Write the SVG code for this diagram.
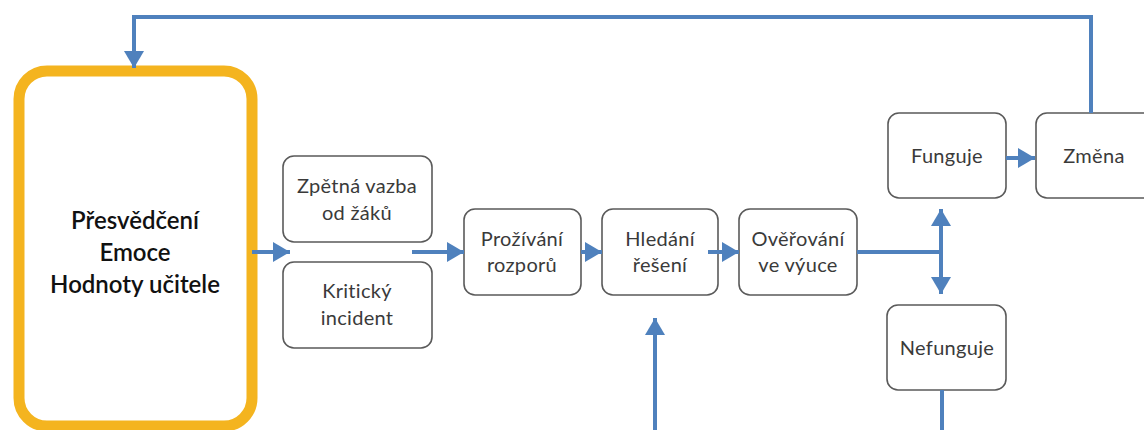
<svg xmlns="http://www.w3.org/2000/svg" width="1144" height="430" viewBox="0 0 1144 430">
  <style>
    .box { fill: #ffffff; stroke: #5a5a5a; stroke-width: 1.6; }
    .main { fill: #ffffff; stroke: #f4b41f; stroke-width: 11; }
    .lbl { font-family: "Lato", "Liberation Sans", sans-serif; font-size: 20px; letter-spacing: 0.3px; fill: #3a3a3a; text-anchor: middle; }
    .big { font-family: "Lato", "Liberation Sans", sans-serif; font-size: 24px; font-weight: 600; fill: #111111; text-anchor: middle; }
    .wire { fill: none; stroke: #4f81bd; stroke-width: 4; }
  </style>
  <defs>
    <marker id="arrow" markerUnits="userSpaceOnUse" markerWidth="20" markerHeight="22" refX="17" refY="10" orient="auto">
      <path d="M0,0 L17,10 L0,20 Z" fill="#4f81bd"/>
    </marker>
  </defs>

  <rect width="1144" height="430" fill="#ffffff"/>

  <!-- teacher's inner state -->
  <g id="node-ucitel">
    <rect class="main" x="19" y="71" width="233" height="355" rx="28"/>
    <text class="big" x="135" y="229">Přesvědčení</text>
    <text class="big" x="135" y="261">Emoce</text>
    <text class="big" x="135" y="293">Hodnoty učitele</text>
  </g>

  <g id="node-zpetna-vazba">
    <rect class="box" x="283" y="156" width="149" height="86" rx="11"/>
    <text class="lbl" x="357" y="193">Zpětná vazba</text>
    <text class="lbl" x="357" y="220">od žáků</text>
  </g>

  <g id="node-kriticky-incident">
    <rect class="box" x="283" y="262" width="149" height="86" rx="11"/>
    <text class="lbl" x="357" y="298">Kritický</text>
    <text class="lbl" x="357" y="325">incident</text>
  </g>

  <g id="node-prozivani">
    <rect class="box" x="464" y="209" width="117" height="86" rx="11"/>
    <text class="lbl" x="522" y="246">Prožívání</text>
    <text class="lbl" x="522" y="272">rozporů</text>
  </g>

  <g id="node-hledani">
    <rect class="box" x="602" y="209" width="116" height="86" rx="11"/>
    <text class="lbl" x="660" y="246">Hledání</text>
    <text class="lbl" x="660" y="272">řešení</text>
  </g>

  <g id="node-overovani">
    <rect class="box" x="739" y="209" width="118" height="86" rx="11"/>
    <text class="lbl" x="798" y="246">Ověřování</text>
    <text class="lbl" x="798" y="272">ve výuce</text>
  </g>

  <g id="node-funguje">
    <rect class="box" x="888" y="113" width="118" height="85" rx="11"/>
    <text class="lbl" x="947" y="163">Funguje</text>
  </g>

  <g id="node-nefunguje">
    <rect class="box" x="887" y="305" width="119" height="85" rx="11"/>
    <text class="lbl" x="947" y="355">Nefunguje</text>
  </g>

  <g id="node-zmena">
    <rect class="box" x="1036" y="113" width="118" height="85" rx="11"/>
    <text class="lbl" x="1094" y="163">Změna</text>
  </g>

  <g id="connectors">
    <!-- feedback from change back to the teacher -->
    <path class="wire" d="M1091,113 V17 H134 V68" marker-end="url(#arrow)"/>
    <!-- main flow -->
    <path class="wire" d="M252,252 H290" marker-end="url(#arrow)"/>
    <path class="wire" d="M412,252 H464" marker-end="url(#arrow)"/>
    <path class="wire" d="M581,252 H602" marker-end="url(#arrow)"/>
    <path class="wire" d="M708,252 H739" marker-end="url(#arrow)"/>
    <!-- split after verification -->
    <path class="wire" d="M857,252 H941"/>
    <path class="wire" d="M941,254 V209" marker-end="url(#arrow)"/>
    <path class="wire" d="M941,250 V294" marker-end="url(#arrow)"/>
    <path class="wire" d="M1006,158 H1035" marker-end="url(#arrow)"/>
    <!-- failure loops back to searching for a solution -->
    <path class="wire" d="M942,390 V432 H655 V318" marker-end="url(#arrow)"/>
  </g>
</svg>
